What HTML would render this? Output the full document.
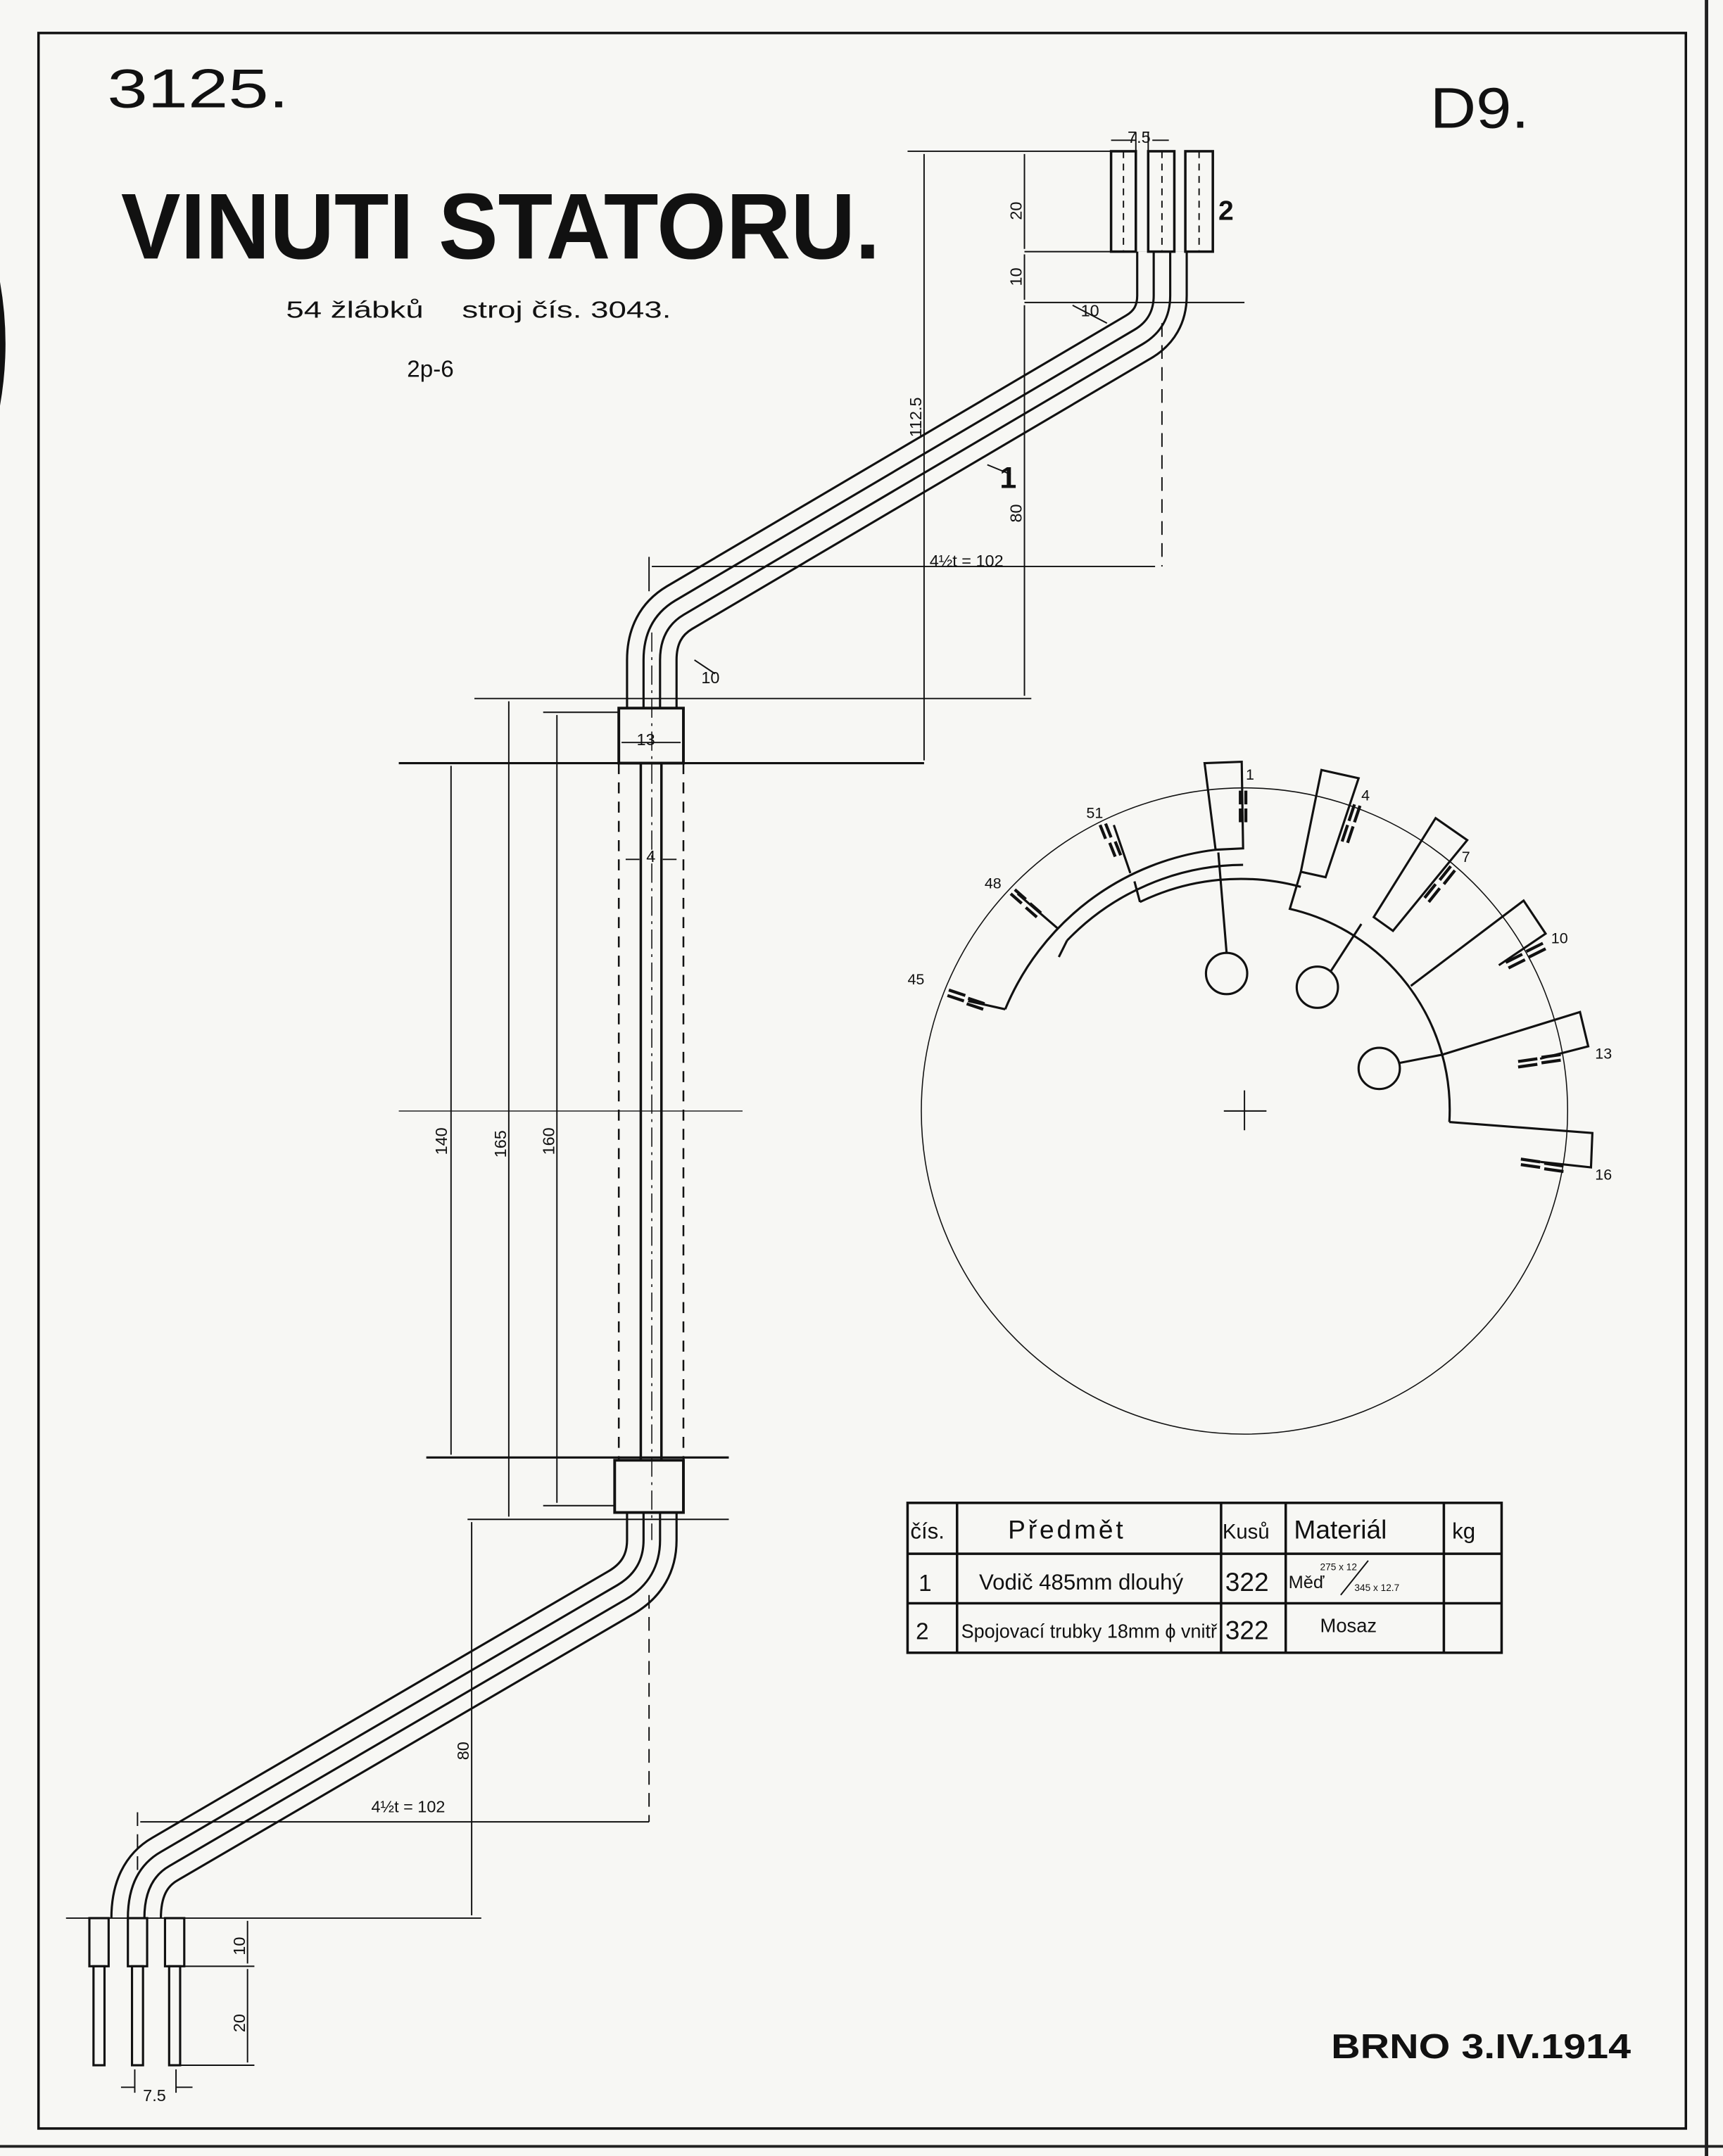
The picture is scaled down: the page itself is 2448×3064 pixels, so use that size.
<!DOCTYPE html>
<html><head><meta charset="utf-8"><style>
html,body{margin:0;padding:0;background:#f7f7f4}
svg{display:block}
text{font-family:"Liberation Sans",sans-serif;fill:#111}
</style></head><body>
<svg width="2448" height="3064" viewBox="0 0 1253 1568" preserveAspectRatio="none" xmlns="http://www.w3.org/2000/svg">
<rect width="1253" height="1568" fill="#f7f7f4"/>
<rect x="28" y="24" width="1198" height="1524" fill="none" stroke="#111" stroke-width="1.8"/>
<line x1="1241" y1="0" x2="1241" y2="1568" stroke="#222" stroke-width="2.5"/>
<line x1="0" y1="1561" x2="1253" y2="1561" stroke="#222" stroke-width="2"/>
<path d="M0 205 Q8 250 0 295 Z" fill="#111"/>

<text x="78" y="78" font-size="40" textLength="132" lengthAdjust="spacingAndGlyphs">3125.</text>
<text x="1040" y="93" font-size="42" textLength="72" lengthAdjust="spacingAndGlyphs">D9.</text>
<text x="88" y="188" font-size="68" font-weight="bold" textLength="552" lengthAdjust="spacingAndGlyphs">VINUTI STATORU.</text>
<text x="208" y="231" font-size="17" textLength="100" lengthAdjust="spacingAndGlyphs">54 žlábků</text>
<text x="336" y="231" font-size="17" textLength="152" lengthAdjust="spacingAndGlyphs">stroj čís. 3043.</text>
<text x="296" y="274" font-size="17">2p-6</text>

<g fill="none" stroke-linejoin="round">
<path d="M845 183 V215 Q845 235 828 245 L494 442 Q474 454 474 480 V515" stroke="#111" stroke-width="37.6"/>
<path d="M845 183 V215 Q845 235 828 245 L494 442 Q474 454 474 480 V515" stroke="#f7f7f4" stroke-width="34.4"/>
<path d="M845 183 V215 Q845 235 828 245 L494 442 Q474 454 474 480 V515" stroke="#111" stroke-width="13.6"/>
<path d="M845 183 V215 Q845 235 828 245 L494 442 Q474 454 474 480 V515" stroke="#f7f7f4" stroke-width="10.4"/>
<path d="M474 1100 V1120 Q474 1145 452 1158 L120 1352 Q99 1364 99 1395" stroke="#111" stroke-width="37.6"/>
<path d="M474 1100 V1120 Q474 1145 452 1158 L120 1352 Q99 1364 99 1395" stroke="#f7f7f4" stroke-width="34.4"/>
<path d="M474 1100 V1120 Q474 1145 452 1158 L120 1352 Q99 1364 99 1395" stroke="#111" stroke-width="13.6"/>
<path d="M474 1100 V1120 Q474 1145 452 1158 L120 1352 Q99 1364 99 1395" stroke="#f7f7f4" stroke-width="10.4"/>
</g>
<g fill="#f7f7f4" stroke="#111" stroke-width="1.8">
<rect x="808" y="110" width="18" height="73"/>
<rect x="835" y="110" width="19" height="73"/>
<rect x="862" y="110" width="20" height="73"/>
</g>
<g stroke="#111" stroke-width="1" stroke-dasharray="5,4">
<line x1="817" y1="110" x2="817" y2="183"/><line x1="845" y1="110" x2="845" y2="183"/><line x1="872" y1="110" x2="872" y2="183"/>
</g>

<g fill="#f7f7f4" stroke="#111" stroke-width="1.6">
<rect x="65" y="1395" width="14" height="35"/><rect x="93" y="1395" width="14" height="35"/><rect x="120" y="1395" width="14" height="35"/>
<rect x="68" y="1430" width="8" height="72"/><rect x="96" y="1430" width="8" height="72"/><rect x="123" y="1430" width="8" height="72"/>
</g>

<g fill="none" stroke="#111">
<rect x="450" y="515" width="47" height="40" stroke-width="2" fill="#f7f7f4"/>
<rect x="447" y="1062" width="50" height="38" stroke-width="2" fill="#f7f7f4"/>
<line x1="466" y1="555" x2="466" y2="1062" stroke-width="1.8"/>
<line x1="481" y1="555" x2="481" y2="1062" stroke-width="1.8"/>
<line x1="450" y1="555" x2="450" y2="1062" stroke-width="1.3" stroke-dasharray="8,6"/>
<line x1="497" y1="555" x2="497" y2="1062" stroke-width="1.3" stroke-dasharray="8,6"/>
<line x1="474" y1="460" x2="474" y2="1120" stroke-width="0.8" stroke-dasharray="14,4,2,4"/>
</g>

<defs>
<marker id="a" viewBox="0 0 10 10" refX="10" refY="5" markerWidth="7" markerHeight="7" orient="auto-start-reverse"><path d="M0 1 L10 5 L0 9" fill="none" stroke="#111" stroke-width="1.6"/></marker>
</defs>
<g stroke="#111" stroke-width="1" fill="none">
<line x1="808" y1="102" x2="826" y2="102" marker-start="a"/>
<line x1="838" y1="102" x2="850" y2="102" marker-start="a"/>
<line x1="826" y1="96" x2="826" y2="110"/><line x1="835" y1="96" x2="835" y2="110"/>
<line x1="660" y1="110" x2="808" y2="110"/>
<line x1="672" y1="112" x2="672" y2="553" marker-start="a" marker-end="a"/>
<line x1="745" y1="183" x2="808" y2="183"/>
<line x1="745" y1="220" x2="905" y2="220"/>
<line x1="745" y1="112" x2="745" y2="181" marker-start="a" marker-end="a"/>
<line x1="745" y1="185" x2="745" y2="218" marker-start="a" marker-end="a"/>
<line x1="745" y1="222" x2="745" y2="506" marker-start="a" marker-end="a"/>
<line x1="845" y1="235" x2="845" y2="412" stroke-dasharray="10,6"/>
<line x1="474" y1="412" x2="840" y2="412" marker-start="a"/>
<line x1="472" y1="405" x2="472" y2="430"/>
<line x1="345" y1="508" x2="750" y2="508"/>
<line x1="290" y1="555" x2="672" y2="555" stroke-width="1.6"/>
<line x1="395" y1="518" x2="450" y2="518"/>
<line x1="452" y1="540" x2="495" y2="540" marker-start="a" marker-end="a"/>
<line x1="455" y1="625" x2="465" y2="625" marker-end="a"/>
<line x1="492" y1="625" x2="482" y2="625" marker-end="a"/>
<line x1="290" y1="808" x2="540" y2="808" stroke-width="0.7"/>
<line x1="328" y1="557" x2="328" y2="1058" marker-start="a" marker-end="a"/>
<line x1="370" y1="510" x2="370" y2="1103" marker-start="a" marker-end="a"/>
<line x1="405" y1="520" x2="405" y2="1093" marker-start="a" marker-end="a"/>
<line x1="310" y1="1060" x2="530" y2="1060" stroke-width="1.6"/>
<line x1="340" y1="1105" x2="530" y2="1105"/>
<line x1="395" y1="1095" x2="447" y2="1095"/>
<line x1="780" y1="222" x2="805" y2="235" marker-end="a"/>
<line x1="520" y1="490" x2="505" y2="480" marker-end="a"/>
<line x1="735" y1="345" x2="718" y2="338"/>
<line x1="343" y1="1107" x2="343" y2="1393" marker-start="a" marker-end="a"/>
<line x1="48" y1="1395" x2="350" y2="1395"/>
<line x1="472" y1="1160" x2="472" y2="1325" stroke-dasharray="10,6"/>
<line x1="102" y1="1325" x2="472" y2="1325" marker-start="a" marker-end="a"/>
<line x1="100" y1="1318" x2="100" y2="1360" stroke-dasharray="10,6"/>
<line x1="130" y1="1430" x2="185" y2="1430"/>
<line x1="130" y1="1502" x2="185" y2="1502"/>
<line x1="180" y1="1397" x2="180" y2="1428" marker-start="a" marker-end="a"/>
<line x1="180" y1="1432" x2="180" y2="1500" marker-start="a" marker-end="a"/>
<line x1="88" y1="1518" x2="98" y2="1518" marker-end="a"/>
<line x1="140" y1="1518" x2="128" y2="1518" marker-end="a"/>
<line x1="98" y1="1505" x2="98" y2="1522"/><line x1="128" y1="1505" x2="128" y2="1522"/>
</g>

<g font-size="12">
<text x="820" y="104">7.5</text>
<text x="886" y="160" font-size="20" font-weight="bold">2</text>
<text x="727" y="355" font-size="22" font-weight="bold">1</text>
<text x="786" y="230">10</text>
<text x="510" y="497">10</text>
<text x="676" y="412">4½t = 102</text>
<text x="463" y="542">13</text>
<text x="470" y="627">4</text>
<text x="270" y="1318">4½t = 102</text>
<text x="104" y="1528">7.5</text>
<text transform="translate(743,160) rotate(-90)">20</text>
<text transform="translate(743,208) rotate(-90)">10</text>
<text transform="translate(670,318) rotate(-90)">112.5</text>
<text transform="translate(743,380) rotate(-90)">80</text>
<text transform="translate(325,840) rotate(-90)">140</text>
<text transform="translate(368,842) rotate(-90)">165</text>
<text transform="translate(403,840) rotate(-90)">160</text>
<text transform="translate(341,1280) rotate(-90)">80</text>
<text transform="translate(178,1422) rotate(-90)">10</text>
<text transform="translate(178,1478) rotate(-90)">20</text>
</g>

<g fill="none" stroke="#111">
<circle cx="905" cy="808" r="235" stroke-width="0.8"/>
<line x1="890" y1="808" x2="921" y2="808" stroke-width="1"/>
<line x1="905" y1="793" x2="905" y2="822" stroke-width="1"/>
<g stroke-width="1.6">
<polygon points="876,555 903,554 904,617 884,618"/>
<polygon points="961,560 988,566 964,638 946,634"/>
<polygon points="1044,595 1067,611 1013,677 999,667"/>
<polyline points="1026,717 1108,655 1124,679 1090,702"/>
<polyline points="1049,767 1149,736 1155,761 1120,770"/>
<polyline points="1054,816 1158,824 1157,849 1120,845"/>
<path d="M731 734 A190 190 0 0 1 884 618"/>
<path d="M776 684 A179 179 0 0 1 904 629"/>
<path d="M829 656 A168 168 0 0 1 946 645"/>
<path d="M770 696 L776 684"/><path d="M829 656 L825 641"/>
<path d="M946 634 L938 661 A150 150 0 0 1 1054 816"/>
<path d="M704 728 L731 734"/>
<circle cx="892" cy="708" r="15"/>
<circle cx="958" cy="718" r="15"/>
<circle cx="1003" cy="777" r="15"/>
<line x1="892" y1="693" x2="886" y2="620"/>
<line x1="968" y1="706" x2="990" y2="672"/>
<line x1="1018" y1="773" x2="1049" y2="767"/>
<line x1="810" y1="600" x2="822" y2="635"/>
<line x1="740" y1="650" x2="769" y2="675"/>
</g>
<g stroke-width="2.2">
<path d="M902 575v10M906 575v10M902 588v10M906 588v10"/>
<path d="M985 585l-4 12M989 586l-4 12M980 600l-4 12M984 601l-4 12"/>
<path d="M1055 630l-8 10M1058 633l-8 10M1044 643l-8 10M1047 646l-8 10"/>
<path d="M1095 700l12-6M1097 704l12-6M1110 692l12-6M1112 696l12-6"/>
<path d="M1104 772l14-2M1104 776l14-2M1121 769l14-2M1121 773l14-2"/>
<path d="M1106 843l14 2M1106 847l14 2M1123 846l14 2M1123 850l14 2"/>
<path d="M800 600l4 10M804 599l4 10M807 613l4 10M811 612l4 10"/>
<path d="M735 650l8 7M738 647l8 7M746 660l8 7M749 657l8 7"/>
<path d="M690 720l12 4M689 724l12 4M704 726l12 4M703 730l12 4"/>
</g>
</g>
<g font-size="11">
<text x="906" y="567">1</text><text x="990" y="582">4</text><text x="1063" y="627">7</text>
<text x="1128" y="686">10</text><text x="1160" y="770">13</text><text x="1160" y="858">16</text>
<text x="790" y="595">51</text><text x="716" y="646">48</text><text x="660" y="716">45</text>
</g>

<g fill="none" stroke="#111" stroke-width="1.8">
<rect x="660" y="1093" width="432" height="109"/>
<line x1="660" y1="1130" x2="1092" y2="1130"/>
<line x1="660" y1="1166" x2="1092" y2="1166"/>
<line x1="696" y1="1093" x2="696" y2="1202"/>
<line x1="888" y1="1093" x2="888" y2="1202"/>
<line x1="935" y1="1093" x2="935" y2="1202"/>
<line x1="1050" y1="1093" x2="1050" y2="1202"/>
</g>
<g font-size="17">
<text x="662" y="1119" font-size="16">čís.</text>
<text x="733" y="1119" font-size="19" letter-spacing="2">Předmět</text>
<text x="889" y="1119" font-size="15">Kusů</text>
<text x="941" y="1119" font-size="19">Materiál</text>
<text x="1056" y="1119" font-size="16">kg</text>
<text x="668" y="1157">1</text>
<text x="712" y="1156" font-size="16">Vodič 485mm dlouhý</text>
<text x="891" y="1157" font-size="19">322</text>
<text x="937" y="1155" font-size="13">Měď</text>
<text x="960" y="1142" font-size="7">275 x 12</text>
<text x="985" y="1157" font-size="7">345 x 12.7</text>
<line x1="975" y1="1160" x2="995" y2="1135" stroke="#111" stroke-width="1"/>
<text x="666" y="1192">2</text>
<text x="699" y="1191" font-size="14" textLength="186" lengthAdjust="spacingAndGlyphs">Spojovací trubky 18mm ϕ vnitř</text>
<text x="891" y="1192" font-size="19">322</text>
<text x="960" y="1187" font-size="14">Mosaz</text>
</g>

<text x="968" y="1497" font-size="25" font-weight="bold" textLength="218" lengthAdjust="spacingAndGlyphs">BRNO 3.IV.1914</text>
</svg>
</body></html>
